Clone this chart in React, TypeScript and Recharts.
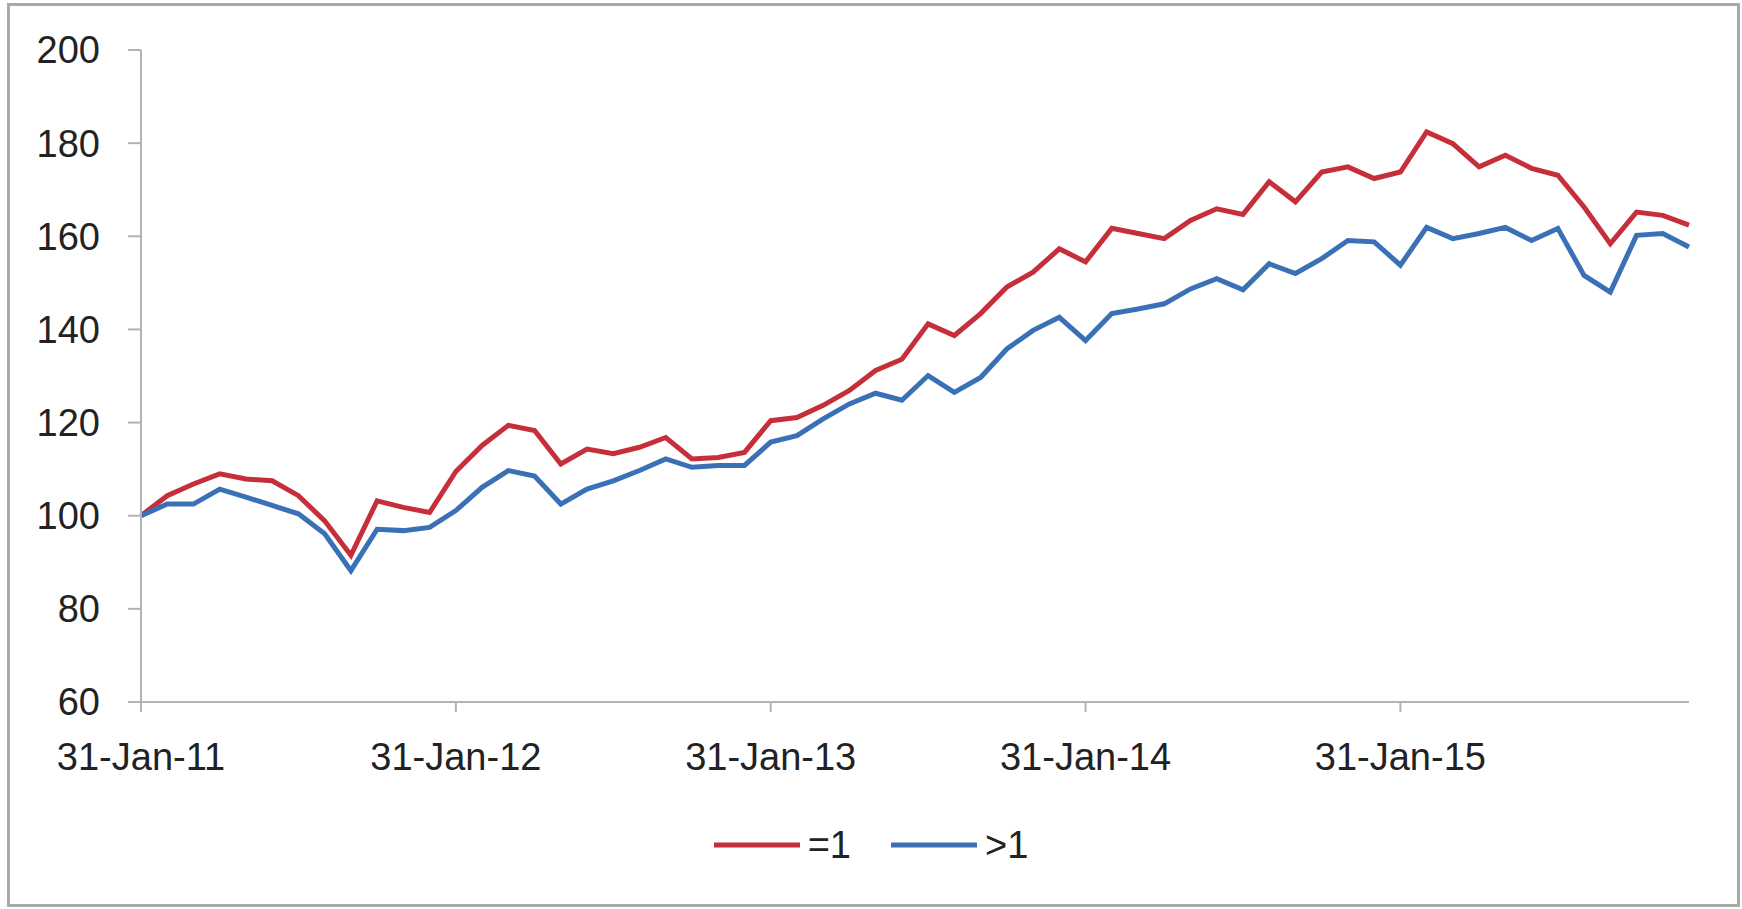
import React from "react";
import { LineChart, Line, XAxis, YAxis, Legend } from "recharts";

const dates: string[] = [
  "31-Jan-11", "28-Feb-11", "31-Mar-11", "30-Apr-11", "31-May-11", "30-Jun-11",
  "31-Jul-11", "31-Aug-11", "30-Sep-11", "31-Oct-11", "30-Nov-11", "31-Dec-11",
  "31-Jan-12", "29-Feb-12", "31-Mar-12", "30-Apr-12", "31-May-12", "30-Jun-12",
  "31-Jul-12", "31-Aug-12", "30-Sep-12", "31-Oct-12", "30-Nov-12", "31-Dec-12",
  "31-Jan-13", "28-Feb-13", "31-Mar-13", "30-Apr-13", "31-May-13", "30-Jun-13",
  "31-Jul-13", "31-Aug-13", "30-Sep-13", "31-Oct-13", "30-Nov-13", "31-Dec-13",
  "31-Jan-14", "28-Feb-14", "31-Mar-14", "30-Apr-14", "31-May-14", "30-Jun-14",
  "31-Jul-14", "31-Aug-14", "30-Sep-14", "31-Oct-14", "30-Nov-14", "31-Dec-14",
  "31-Jan-15", "28-Feb-15", "31-Mar-15", "30-Apr-15", "31-May-15", "30-Jun-15",
  "31-Jul-15", "31-Aug-15", "30-Sep-15", "31-Oct-15", "30-Nov-15", "31-Dec-15",
];

const seriesEq1: number[] = [
  100, 104.3, 106.8, 109.0, 107.9, 107.5, 104.3, 98.9, 91.5, 103.2, 101.8, 100.7,
  109.5, 115.1, 119.4, 118.3, 111.1, 114.3, 113.3, 114.7, 116.8, 112.2, 112.5, 113.6,
  120.4, 121.1, 123.7, 126.9, 131.2, 133.6, 141.2, 138.7, 143.4, 149.1, 152.3, 157.3,
  154.5, 161.7, 160.6, 159.5, 163.4, 165.9, 164.7, 171.7, 167.4, 173.8, 174.9, 172.4,
  173.8, 182.4, 179.9, 174.9, 177.4, 174.6, 173.1, 166.3, 158.4, 165.2, 164.5, 162.4,
];

const seriesGt1: number[] = [
  100, 102.5, 102.5, 105.7, 104.0, 102.2, 100.4, 96.1, 88.2, 97.1, 96.8, 97.5,
  101.1, 106.1, 109.7, 108.5, 102.5, 105.7, 107.5, 109.7, 112.2, 110.4, 110.8, 110.8,
  115.8, 117.2, 120.8, 124.0, 126.3, 124.8, 130.1, 126.5, 129.7, 135.8, 139.8, 142.6,
  137.6, 143.4, 144.4, 145.5, 148.7, 150.9, 148.5, 154.1, 152.0, 155.2, 159.1, 158.8,
  153.8, 161.9, 159.5, 160.6, 161.9, 159.1, 161.7, 151.6, 148.0, 160.2, 160.6, 157.7,
];

const yTicks: number[] = [60, 80, 100, 120, 140, 160, 180, 200];
const seriesNames: string[] = ["=1", ">1"];

const data = dates.map((d, i) => ({ date: d, eq1: seriesEq1[i], gt1: seriesGt1[i] }));

const RED = "#c62f3a";
const BLUE = "#3a70b6";
const FONT = "'Liberation Sans', Arial, sans-serif";

const LegendContent = (props: any) => {
  const payload = props.payload || [];
  return (
    <div style={{ display: "flex", justifyContent: "center", alignItems: "center", height: 50, fontFamily: FONT, fontSize: 38, color: "#222" }}>
      {payload.map((p: any, idx: number) => (
        <div key={idx} style={{ display: "flex", alignItems: "center", marginLeft: idx === 0 ? 0 : 40 }}>
          <svg width={86} height={10} style={{ display: "block" }}>
            <line x1={0} y1={5} x2={86} y2={5} stroke={p.color} strokeWidth={5} />
          </svg>
          <span style={{ marginLeft: 8, lineHeight: "50px" }}>{p.value}</span>
        </div>
      ))}
    </div>
  );
};

export default function App() {
  return (
    <div style={{ position: "absolute", left: 0, top: 0, width: 1742, height: 909, background: "#fff" }}>
      <div
        style={{
          position: "absolute",
          left: 7,
          top: 3,
          width: 1733,
          height: 904,
          border: "3px solid #a9a9a9",
          boxSizing: "border-box",
        }}
      />
      <LineChart
        width={1742}
        height={909}
        data={data}
        margin={{ top: 50, right: 53, left: 0, bottom: 97 }}
        style={{ position: "absolute", left: 0, top: 0 }}
      >
        <XAxis
          dataKey="date"
          interval={11}
          height={60}
          tickSize={10}
          tickMargin={31}
          stroke="#b3b3b3"
          strokeWidth={2}
          tick={{ fill: "#222", fontSize: 38, fontFamily: FONT }}
          padding={{ left: 0, right: 0 }}
        />
        <YAxis
          domain={[60, 200]}
          ticks={yTicks}
          width={141}
          tickSize={13}
          tickMargin={28}
          stroke="#b3b3b3"
          strokeWidth={2}
          interval={0}
          tick={{ fill: "#222", fontSize: 38, fontFamily: FONT }}
        />
        <Legend
          verticalAlign="bottom"
          content={<LegendContent />}
          wrapperStyle={{ top: 820, bottom: "auto", left: 0, width: 1742, height: 50 }}
        />
        <Line
          type="linear"
          dataKey="eq1"
          name={seriesNames[0]}
          stroke={RED}
          strokeWidth={5}
          dot={false}
          isAnimationActive={false}
        />
        <Line
          type="linear"
          dataKey="gt1"
          name={seriesNames[1]}
          stroke={BLUE}
          strokeWidth={5}
          dot={false}
          isAnimationActive={false}
        />
      </LineChart>
    </div>
  );
}
